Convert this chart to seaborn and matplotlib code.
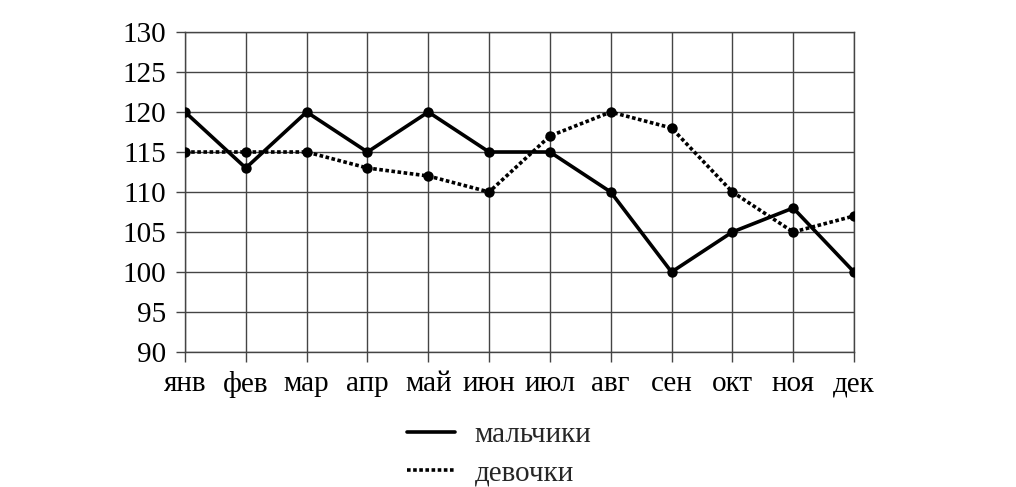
import matplotlib
matplotlib.use("Agg")
import matplotlib.pyplot as plt
import seaborn as sns
import pandas as pd

months = ["янв", "фев", "мар", "апр", "май", "июн", "июл", "авг", "сен", "окт", "ноя", "дек"]
boys = [120, 113, 120, 115, 120, 115, 115, 110, 100, 105, 108, 100]
girls = [115, 115, 115, 113, 112, 110, 117, 120, 118, 110, 105, 107]
yticks = [90, 95, 100, 105, 110, 115, 120, 125, 130]
labels = ["мальчики", "девочки"]

sns.set_style("white")
plt.rcParams["font.family"] = ["Liberation Serif", "DejaVu Serif"]

fig = plt.figure(figsize=(10.16, 4.87), dpi=100)
ax = fig.add_axes([185 / 1016, 1 - 352 / 487, (854 - 185) / 1016, (352 - 32) / 487])

x = list(range(len(months)))
df_b = pd.DataFrame({"x": x, "v": boys})
df_g = pd.DataFrame({"x": x, "v": girls})

sns.lineplot(data=df_b, x="x", y="v", ax=ax, color="black", lw=2.6,
             marker="o", markersize=7.5, markeredgewidth=0, label=labels[0], zorder=3)
sns.lineplot(data=df_g, x="x", y="v", ax=ax, color="black", lw=2.6,
             linestyle=(0, (1.0, 0.7)), dash_capstyle="butt",
             marker="o", markersize=7.5, markeredgewidth=0, label=labels[1], zorder=3)

ax.set_xlim(0, 11)
ax.set_ylim(90, 130)
ax.set_xticks(x)
ax.set_xticklabels(months)
ax.set_yticks(yticks)
ax.set_xlabel("")
ax.set_ylabel("")
ax.grid(True, color="#444444", lw=1)
for s in ax.spines.values():
    s.set_color("#444444")
    s.set_linewidth(1)
ax.tick_params(axis="both", which="both", direction="out", color="#444444",
               width=1, labelsize=21, labelcolor="black", bottom=True, left=True)
ax.tick_params(axis="y", length=6.5, pad=7)
ax.tick_params(axis="x", length=7, pad=7)

ax.get_legend().remove()
h, l = ax.get_legend_handles_labels()
fig.legend(h, l, loc="upper left", bbox_to_anchor=(407 / 1016, 1 - 422 / 487),
           frameon=False, fontsize=21, handlelength=1.64, handletextpad=0.68,
           labelspacing=0.4, borderpad=0, borderaxespad=0)
for line in fig.legends[0].get_lines():
    line.set_marker("")

fig.savefig("out.png", dpi=100, facecolor="white")
